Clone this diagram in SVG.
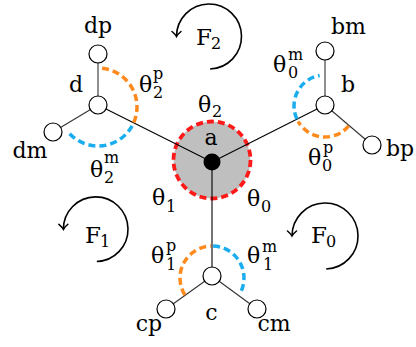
<svg xmlns="http://www.w3.org/2000/svg" width="416" height="347" viewBox="0 0 416 347">
<style>
text{font-family:"DejaVu Serif","Liberation Serif",serif;fill:#000}
.lbl{font-size:22px;text-anchor:middle}
.th{font-size:22px}
.s{font-size:16px}
.fl{font-size:23px}
.edge{stroke:#000;stroke-width:1.1;fill:none}
.leaf{stroke:#333;stroke-width:1.1;fill:none}
.node{fill:#fff;stroke:#000;stroke-width:1.2}
.or{stroke:#ff8a1e;stroke-width:3.5;fill:none;stroke-dasharray:7 4}
.bl{stroke:#1aaeef;stroke-width:3.5;fill:none;stroke-dasharray:7 4}
.loop{stroke:#000;stroke-width:1.6;fill:none;marker-end:url(#arr)}
</style>
<defs>
<marker id="arr" markerWidth="12" markerHeight="12" refX="6" refY="6" orient="auto" markerUnits="userSpaceOnUse">
<path d="M1,1.5 Q4,5 6,6 Q4,7 1,10.5" fill="none" stroke="#000" stroke-width="1.5" stroke-linecap="round"/>
</marker>
</defs>
<g id="a-disk">
<circle cx="212" cy="160" r="38.5" fill="#bfbfbf" stroke="#ff1a1a" stroke-width="3.8" stroke-dasharray="7 4"/>
</g>
<g id="connectors">
<line class="edge" x1="212" y1="162" x2="98" y2="105"/>
<line class="edge" x1="212" y1="162" x2="325" y2="105"/>
<line class="edge" x1="212" y1="162" x2="212" y2="276"/>
<line class="leaf" x1="98" y1="105" x2="98" y2="54"/>
<line class="leaf" x1="98" y1="105" x2="53" y2="132"/>
<line class="leaf" x1="325" y1="105" x2="325" y2="51"/>
<line class="leaf" x1="325" y1="105" x2="372" y2="145"/>
<line class="leaf" x1="212" y1="276" x2="166" y2="309"/>
<line class="leaf" x1="212" y1="276" x2="257" y2="309"/>
</g>
<g id="angles">
<path class="or" d="M102.08,68.21 A39,39 0 0 1 133.35,123.48"/>
<path class="bl" d="M132.11,125.91 A39,39 0 0 1 68.13,132.07"/>
<path class="bl" d="M296.9,119.1 A31,31 0 0 1 319.6,75.47"/>
<path class="or" d="M348.75,125.93 A31,31 0 0 1 298.15,121.5"/>
<path class="or" d="M184.86,294.96 A32,32 0 0 1 210.88,246.02"/>
<path class="bl" d="M213.12,246.02 A32,32 0 0 1 239.71,294"/>
</g>
<g id="a">
<circle cx="212" cy="162" r="8.5" fill="#000"/>
<text class="lbl" x="211" y="145">a</text>
</g>
<g id="d"><circle class="node" cx="98" cy="105" r="9"/><text class="lbl" x="76" y="92">d</text></g>
<g id="dp"><circle class="node" cx="98" cy="54" r="9"/><text class="lbl" x="98" y="33">dp</text></g>
<g id="dm"><circle class="node" cx="53" cy="132" r="9"/><text class="lbl" x="30" y="158">dm</text></g>
<g id="b"><circle class="node" cx="325" cy="105" r="9"/><text class="lbl" x="348" y="91.5">b</text></g>
<g id="bm"><circle class="node" cx="325" cy="51" r="9"/><text class="lbl" x="348.5" y="34">bm</text></g>
<g id="bp"><circle class="node" cx="372" cy="145" r="9"/><text class="lbl" x="386" y="156" style="text-anchor:start">bp</text></g>
<g id="c"><circle class="node" cx="212" cy="276" r="9"/><text class="lbl" x="211.5" y="320">c</text></g>
<g id="cp"><circle class="node" cx="166" cy="309" r="9"/><text class="lbl" x="149" y="331">cp</text></g>
<g id="cm"><circle class="node" cx="257" cy="309" r="9"/><text class="lbl" x="274" y="331">cm</text></g>
<g id="theta-labels">
<text class="th" x="139" y="92">θ<tspan class="s" x="153" y="79">p</tspan><tspan class="s" x="153" y="98">2</tspan></text>
<text class="th" x="90" y="177">θ<tspan class="s" x="104" y="163">m</tspan><tspan class="s" x="104" y="183">2</tspan></text>
<text class="th" x="273" y="72">θ<tspan class="s" x="288" y="60">m</tspan><tspan class="s" x="288" y="78">0</tspan></text>
<text class="th" x="308" y="165">θ<tspan class="s" x="323" y="153">p</tspan><tspan class="s" x="322" y="171">0</tspan></text>
<text class="th" x="151" y="263">θ<tspan class="s" x="166" y="251">p</tspan><tspan class="s" x="166" y="270">1</tspan></text>
<text class="th" x="247" y="263">θ<tspan class="s" x="262" y="252">m</tspan><tspan class="s" x="263" y="270">1</tspan></text>
<text class="th" x="198" y="112">θ<tspan class="s" x="212" y="117">2</tspan></text>
<text class="th" x="152" y="205">θ<tspan class="s" x="166" y="212">1</tspan></text>
<text class="th" x="247" y="206">θ<tspan class="s" x="261" y="212">0</tspan></text>
</g>
<g id="F2">
<path class="loop" d="M210.1,69 A32.5,32.5 0 1 0 176.5,36.5"/>
<text class="fl" x="196" y="45">F<tspan class="s" x="211" y="49">2</tspan></text>
</g>
<g id="F1">
<path class="loop" d="M96.8,261.5 A32.3,32.3 0 1 0 63.4,229.3"/>
<text class="fl" x="85" y="243">F<tspan class="s" x="100" y="247">1</tspan></text>
</g>
<g id="F0">
<path class="loop" d="M326.2,269 A33,33 0 1 0 292,236"/>
<text class="fl" x="311" y="243">F<tspan class="s" x="326" y="247">0</tspan></text>
</g>
</svg>
